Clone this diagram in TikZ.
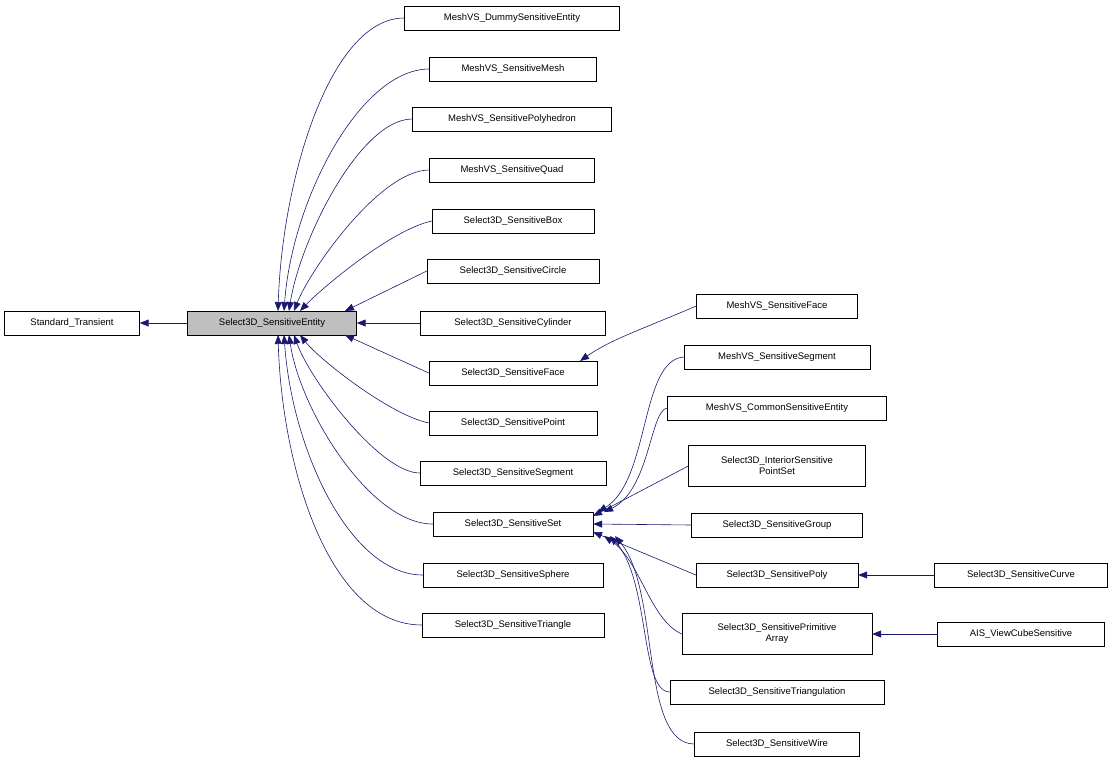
\documentclass[tikz,border=0pt]{standalone}
\usepackage{fontspec}
\setmainfont{Liberation Sans}
\usetikzlibrary{calc,arrows.meta}
\definecolor{edgec}{HTML}{191970}
\begin{document}
\begin{tikzpicture}[x=1pt,y=-1pt,
  box/.style={draw=black,fill=white,inner sep=0pt,minimum height=24pt,align=center,font=\fontsize{9.5}{11}\selectfont},
  box2/.style={box,minimum height=41pt},
  edge/.style={draw=edgec,line width=0.6pt,-{Triangle[length=9pt,width=7pt]}}]
\useasboundingbox (0,0) rectangle (1113,763);
\node[box,minimum width=135pt] (st) at (72,323) {Standard\_Transient};
\node[box,minimum width=169pt,fill=black!25] (e) at (272,323) {Select3D\_SensitiveEntity};
% column 2
\node[box,minimum width=215pt] (c1) at (512,18) {MeshVS\_DummySensitiveEntity};
\node[box,minimum width=167pt] (c2) at (513,69) {MeshVS\_SensitiveMesh};
\node[box,minimum width=199pt] (c3) at (512,119) {MeshVS\_SensitivePolyhedron};
\node[box,minimum width=165pt] (c4) at (512,170) {MeshVS\_SensitiveQuad};
\node[box,minimum width=162pt] (c5) at (513,221) {Select3D\_SensitiveBox};
\node[box,minimum width=172pt] (c6) at (513,271) {Select3D\_SensitiveCircle};
\node[box,minimum width=185pt] (c7) at (513,323) {Select3D\_SensitiveCylinder};
\node[box,minimum width=168pt] (c8) at (513,373) {Select3D\_SensitiveFace};
\node[box,minimum width=168pt] (c9) at (513,423) {Select3D\_SensitivePoint};
\node[box,minimum width=186pt] (c10) at (513,473) {Select3D\_SensitiveSegment};
\node[box,minimum width=160pt] (set) at (513,524) {Select3D\_SensitiveSet};
\node[box,minimum width=180pt] (c12) at (513,575) {Select3D\_SensitiveSphere};
\node[box,minimum width=182pt] (c13) at (513,625) {Select3D\_SensitiveTriangle};
% column 3
\node[box,minimum width=161pt] (d1) at (777,306) {MeshVS\_SensitiveFace};
\node[box,minimum width=186pt] (d2) at (777,357) {MeshVS\_SensitiveSegment};
\node[box,minimum width=219pt] (d3) at (777,408) {MeshVS\_CommonSensitiveEntity};
\node[box2,minimum width=177pt] (d4) at (777,466) {Select3D\_InteriorSensitive\\PointSet};
\node[box,minimum width=171pt] (d5) at (777,525) {Select3D\_SensitiveGroup};
\node[box,minimum width=162pt] (poly) at (777,575) {Select3D\_SensitivePoly};
\node[box2,minimum width=190pt] (arr) at (777,634) {Select3D\_SensitivePrimitive\\Array};
\node[box,minimum width=214pt] (d8) at (777,692) {Select3D\_SensitiveTriangulation};
\node[box,minimum width=165pt] (d9) at (777,744) {Select3D\_SensitiveWire};
% column 4
\node[box,minimum width=173pt] (f1) at (1021,575) {Select3D\_SensitiveCurve};
\node[box,minimum width=167pt] (f2) at (1021,634) {AIS\_ViewCubeSensitive};
% edges
\draw[edge] (e.west) -- (st.east);
\draw[edge] (c1.west) .. controls (330,18) and (282,180) .. (278,311);
\draw[edge] (c2.west) .. controls (360,69) and (292,200) .. (284,311);
\draw[edge] (c3.west) .. controls (360,119) and (300,240) .. (289,311);
\draw[edge] (c4.west) .. controls (380,170) and (310,270) .. (294,311);
\draw[edge] (c5.west) .. controls (390,230) and (320,290) .. (300,311);
\draw[edge] (c6.west) -- (345,311);
\draw[edge] (c7.west) -- (e.east);
\draw[edge] (c8.west) -- (345,335);
\draw[edge] (c9.west) .. controls (390,415) and (320,360) .. (300,335);
\draw[edge] (c10.west) .. controls (380,473) and (310,380) .. (294,335);
\draw[edge] (set.west) .. controls (370,524) and (300,410) .. (289,335);
\draw[edge] (c12.west) .. controls (350,575) and (292,450) .. (284,335);
\draw[edge] (c13.west) .. controls (330,625) and (282,470) .. (278,335);
\draw[edge] (d1.west) .. controls (640,330) and (610,340) .. (580,361);
\draw[edge] (d2.west) .. controls (640,360) and (650,480) .. (598,512);
\draw[edge] (d3.west) .. controls (650,410) and (650,490) .. (604,512);
\draw[edge] (d4.west) -- (593,516);
\draw[edge] (d5.west) -- (set.east);
\draw[edge] (poly.west) -- (593,532);
\draw[edge] (arr.west) .. controls (650,620) and (640,560) .. (604,536);
\draw[edge] (d8.west) .. controls (640,692) and (650,580) .. (610,536);
\draw[edge] (d9.west) .. controls (640,744) and (660,590) .. (615,536);
\draw[edge] (f1.west) -- (poly.east);
\draw[edge] (f2.west) -- (arr.east);
\end{tikzpicture}
\end{document}
